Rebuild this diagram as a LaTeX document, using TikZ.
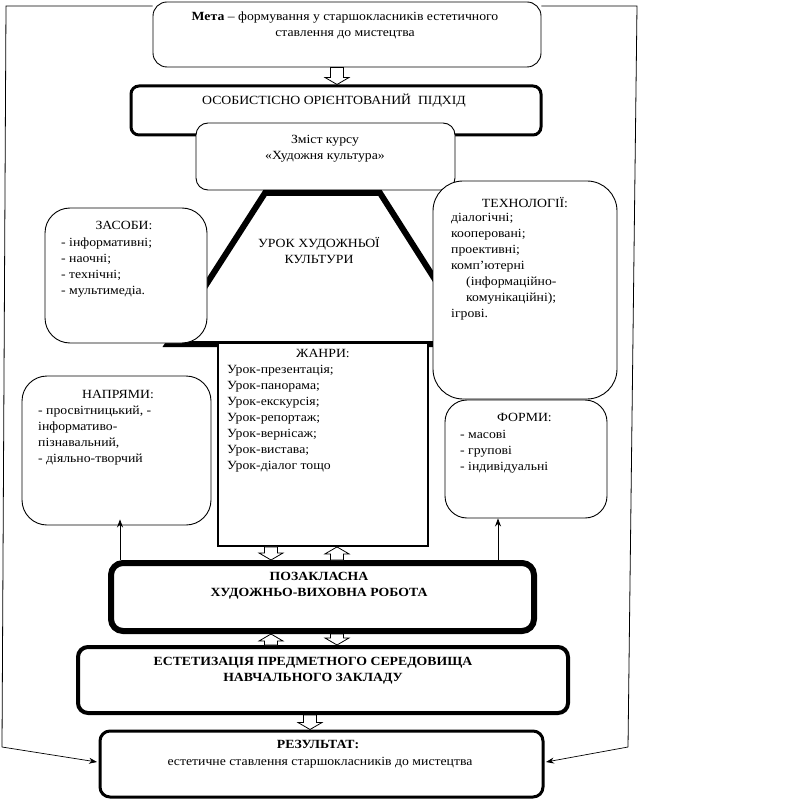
\documentclass[tikz,border=0pt]{standalone}
\usepackage{fontspec}
\setmainfont{Liberation Serif}[FakeStretch=1.1]
\usetikzlibrary{arrows.meta,calc}
\tikzset{
  box/.style={draw, fill=white, inner sep=0, line width=0.9pt},
  txt/.style={inner sep=0, font=\fontsize{12.5}{16}\selectfont, align=left},
  ctxt/.style={inner sep=0, font=\fontsize{12.5}{16}\selectfont, align=center},
  btxt/.style={inner sep=0, font=\fontsize{12.5}{16}\selectfont\bfseries, align=center},
  harrow/.style={draw, fill=white, line width=0.8pt, line join=miter},
  thinarr/.style={line width=0.7pt, -{Stealth[length=8pt,width=6pt]}}
}
\newcommand\hollowarrow[2]{%
  \path let \p1=(#1), \p2=(#2), \n1={ifthenelse(\y2>\y1,1,-1)} in
    coordinate (ha1) at ({\x1-6.5pt},\y1)
    coordinate (ha2) at ({\x1-6.5pt},{\y2-\n1*7pt})
    coordinate (ha3) at ({\x1-12pt},{\y2-\n1*7pt})
    coordinate (ha4) at (\x1,\y2)
    coordinate (ha5) at ({\x1+12pt},{\y2-\n1*7pt})
    coordinate (ha6) at ({\x1+6.5pt},{\y2-\n1*7pt})
    coordinate (ha7) at ({\x1+6.5pt},\y1);
  \draw[harrow] (ha1)--(ha2)--(ha3)--(ha4)--(ha5)--(ha6)--(ha7)--cycle;}
\begin{document}
\begin{tikzpicture}[x=1pt,y=-1pt]
\useasboundingbox (0,0) rectangle (790,799);
\node[box, rounded corners=14pt, minimum width=388pt, minimum height=65pt] (meta) at (347,34.5) {};
\node[txt, anchor=north, align=center] at (345,12) {\textbf{Мета} – формування у старшокласників естетичного\\ставлення до мистецтва};
\node[box, rounded corners=8pt, line width=3pt, minimum width=410pt, minimum height=49pt] (osob) at (336,110.5) {};
\node[ctxt, anchor=north] at (334,94) {ОСОБИСТІСНО ОРІЄНТОВАНИЙ \ ПІДХІД};
\node[box, rounded corners=12pt, minimum width=259pt, minimum height=67pt] (zmist) at (325.5,156.5) {};
\node[ctxt, anchor=north] at (325,135) {Зміст курсу\\«Художня культура»};
% trapezoid
\draw[line width=6pt, fill=white, line join=miter] (265,193) -- (380,193) -- (476,344) -- (168,344) -- cycle;
\node[ctxt, anchor=north] (urok) at (319,237) {УРОК ХУДОЖНЬОЇ\\КУЛЬТУРИ};
% side boxes
\node[box, rounded corners=25pt, minimum width=162pt, minimum height=135pt] (zasoby) at (126,275.5) {};
\node[ctxt, anchor=north] at (124,221) {ЗАСОБИ:};
\node[txt, anchor=north west] at (61,238) {- інформативні;\\- наочні;\\- технічні;\\- мультимедіа.};
\node[box, rounded corners=30pt, minimum width=184pt, minimum height=218pt] (tekh) at (525,290) {};
\node[ctxt, anchor=north] at (525,197) {ТЕХНОЛОГІЇ:};
\node[txt, anchor=north west] at (451,213) {діалогічні;\\кооперовані;\\проективні;\\комп’ютерні\\\hspace*{15pt}(інформаційно-\\\hspace*{15pt}комунікаційні);\\ігрові.};
\node[box, rounded corners=22pt, minimum width=162pt, minimum height=118pt] (formy) at (526,459) {};
\node[ctxt, anchor=north] at (524.5,413) {ФОРМИ:};
\node[txt, anchor=north west] at (460,430) {- масові\\- групові\\- індивідуальні};
\node[box, rounded corners=25pt, minimum width=189pt, minimum height=149pt] (napr) at (116.5,450.5) {};
\node[ctxt, anchor=north] at (118,390) {НАПРЯМИ:};
\node[txt, anchor=north west] at (38,406) {- просвітницький, -\\інформативо-\\пізнавальний,\\- діяльно-творчий};
\node[box, line width=1.8pt, minimum width=210pt, minimum height=203pt] (zhanry) at (323,444.5) {};
\node[ctxt, anchor=north] at (323,349) {ЖАНРИ:};
\node[txt, anchor=north west] at (227,365) {Урок-презентація;\\Урок-панорама;\\Урок-екскурсія;\\Урок-репортаж;\\Урок-вернісаж;\\Урок-вистава;\\Урок-діалог тощо};
% bottom boxes
\node[box, rounded corners=12pt, line width=6pt, minimum width=423pt, minimum height=68pt] (pozak) at (322.5,597) {};
\node[btxt, anchor=north] at (319,572) {ПОЗАКЛАСНА\\ХУДОЖНЬО-ВИХОВНА РОБОТА};
\node[box, rounded corners=10pt, line width=4pt, minimum width=490pt, minimum height=66pt] (estet) at (323,680) {};
\node[btxt, anchor=north] at (313,657) {ЕСТЕТИЗАЦІЯ ПРЕДМЕТНОГО СЕРЕДОВИЩА\\НАВЧАЛЬНОГО ЗАКЛАДУ};
\node[box, rounded corners=10pt, line width=3pt, minimum width=443pt, minimum height=66pt] (rez) at (321.5,764) {};
\node[btxt, anchor=north] at (318,740) {РЕЗУЛЬТАТ:};
\node[ctxt, anchor=north] at (320,757) {естетичне ставлення старшокласників до мистецтва};
% hollow arrows
\coordinate (xa) at (337,0);
\coordinate (xb) at (271,0);
\coordinate (xc) at (310,0);
\hollowarrow{meta.south -| xa}{osob.north -| xa}
\hollowarrow{zhanry.south -| xb}{pozak.north -| xb}
\hollowarrow{pozak.north -| xa}{zhanry.south -| xa}
\hollowarrow{estet.north -| xb}{pozak.south -| xb}
\hollowarrow{pozak.south -| xa}{estet.north -| xa}
\hollowarrow{estet.south -| xc}{rez.north -| xc}
% thin arrows
\coordinate (xl) at (120,0);
\coordinate (xr) at (498,0);
\draw[thinarr] (pozak.north -| xl) -- ($(napr.south -| xl)+(0,-6)$);
\draw[thinarr] (pozak.north -| xr) -- (formy.south -| xr);
% outer lines
\coordinate (lt) at (6,6);
\coordinate (lb) at (2,747);
\coordinate (rt) at (637,6);
\coordinate (rb) at (628,747);
\draw[line width=0.8pt] (meta.north west |- lt) -- (lt) -- (lb);
\draw[thinarr] (lb) -- ($(rez.west)+(-1.5,-2)$);
\draw[line width=0.8pt] (meta.north east |- rt) -- (rt) -- (rb);
\draw[thinarr] (rb) -- ($(rez.east)+(1.5,-2)$);
\end{tikzpicture}
\end{document}
